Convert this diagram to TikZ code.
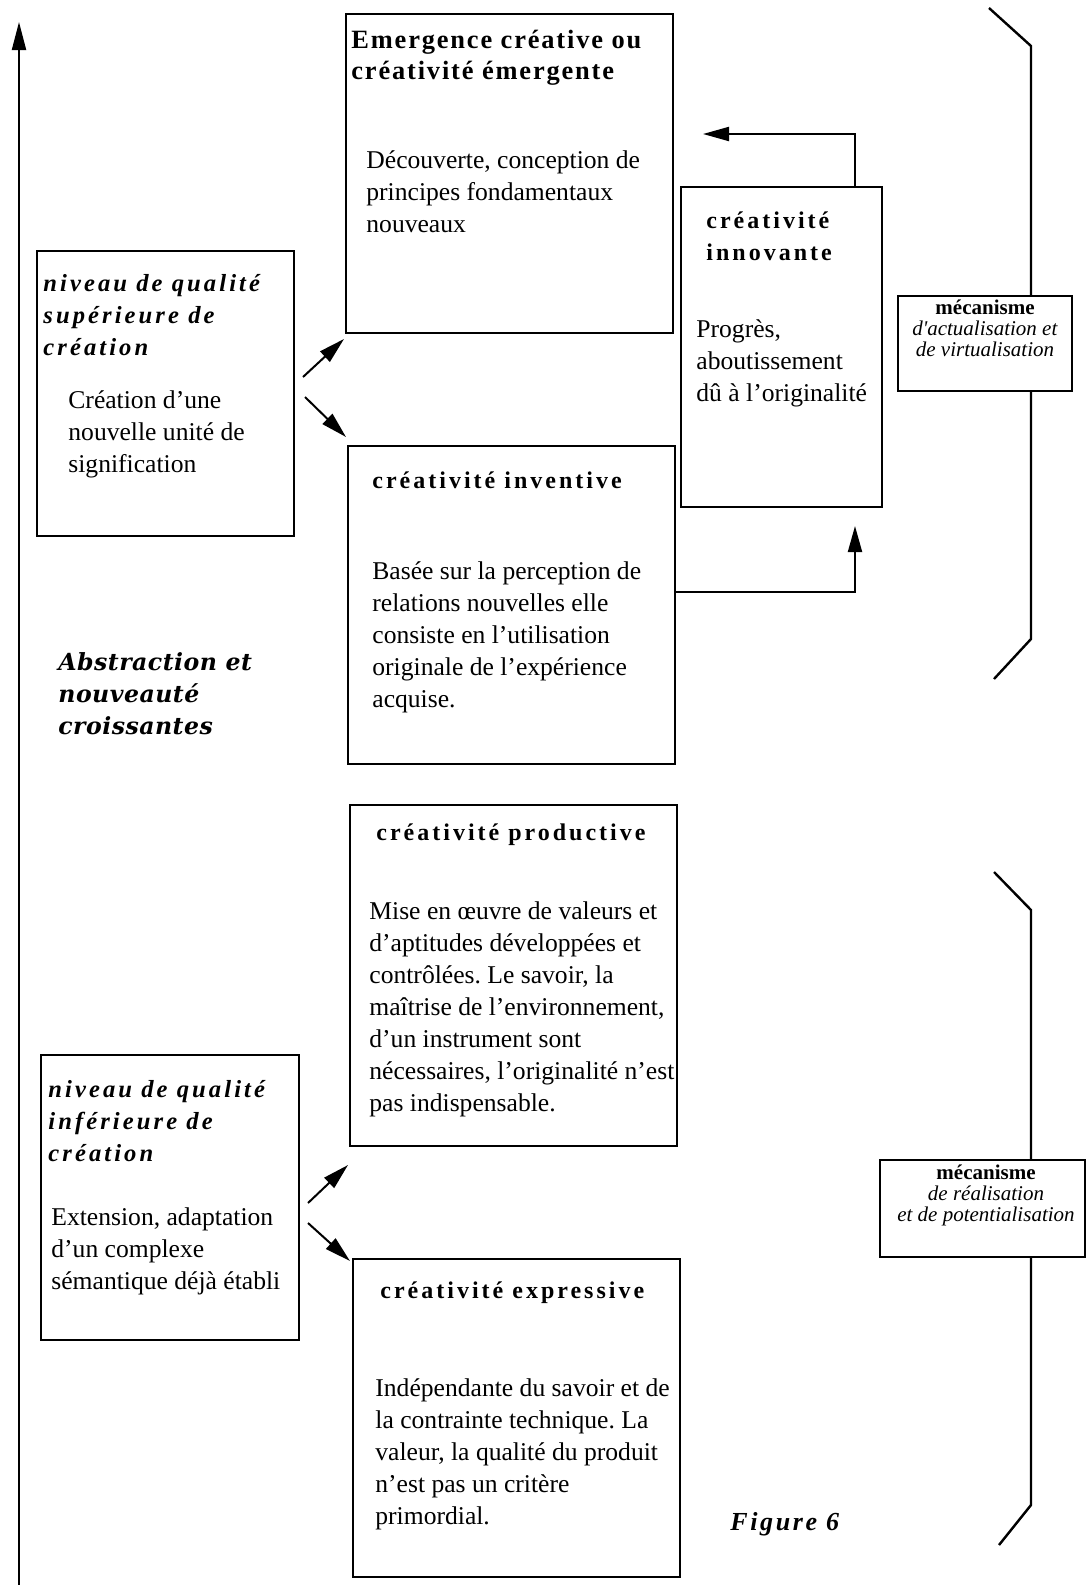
\documentclass[tikz,border=0pt]{standalone}
\usepackage{fontspec}
\setmainfont{Liberation Serif}
\newfontfamily\spaced[LetterSpace=12.5]{Liberation Serif}
\newfontfamily\spacedb[LetterSpace=7]{Liberation Serif}
\newfontfamily\spacedf[LetterSpace=10]{Liberation Serif}
\newfontfamily\wideserif[LetterSpace=2]{DejaVu Serif}
\usetikzlibrary{arrows.meta,fit}
\newcommand\fl{\rule{0pt}{11pt}}
\newcommand\fm{\rule{0pt}{8.5pt}}
\frenchspacing
\begin{document}
\begin{tikzpicture}[x=0.5pt,y=-0.5pt,
  box/.style={draw,line width=1pt,inner sep=0pt,rectangle},
  mbox/.style={draw,line width=1pt,inner sep=0pt,rectangle,fill=white},
  txt/.style={anchor=north west,inner sep=0pt,align=left,font=\fontsize{12.8}{16}\selectfont},
  ttl/.style={anchor=north west,inner sep=0pt,align=left,font=\fontsize{12}{16}\selectfont\spaced\bfseries},
  nttl/.style={anchor=north west,inner sep=0pt,align=left,font=\fontsize{12.3}{16}\selectfont\spaced\bfseries\itshape},
  etl/.style={anchor=north west,inner sep=0pt,align=left,font=\fontsize{13.2}{15.5}\selectfont\spacedb\bfseries},
  abst/.style={anchor=north west,inner sep=0pt,align=left,font=\fontsize{11.8}{16}\selectfont\wideserif\bfseries\itshape},
  mtxt/.style={anchor=north,inner sep=0pt,align=center,font=\fontsize{10.5}{10.5}\selectfont},
  arr/.style={line width=1pt,-{Triangle[length=13pt,width=7pt]}},
  brk/.style={line width=1.2pt}
]
\useasboundingbox (0,0) rectangle (1086,1585);
% axis
\coordinate (axb) at (19,1585);
\coordinate (axt) at (19,22);
\draw[line width=1pt,-{Triangle[length=14pt,width=7pt]}] (axb) -- (axt);
% boxes
\node[box,fit={(346,14) (673,333)}] (emerg) {};
\node[box,fit={(37,251) (294,536)}] (nsup) {};
\node[box,fit={(681,187) (882,507)}] (innov) {};
\node[box,fit={(348,446) (675,764)}] (invent) {};
\node[box,fit={(350,805) (677,1146)}] (prod) {};
\node[box,fit={(41,1055) (299,1340)}] (ninf) {};
\node[box,fit={(353,1259) (680,1577)}] (expr) {};
% brackets
\coordinate (b1a) at (989,8);
\coordinate (b1b) at (1031,46);
\coordinate (b1c) at (1031,639);
\coordinate (b1d) at (994,679);
\draw[brk] (b1a) -- (b1b) -- (b1c) -- (b1d);
\coordinate (b2a) at (994,872);
\coordinate (b2b) at (1031,910);
\coordinate (b2c) at (1031,1505);
\coordinate (b2d) at (999,1545);
\draw[brk] (b2a) -- (b2b) -- (b2c) -- (b2d);
\node[mbox,fit={(898,296) (1072,391)}] (mech1) {};
\node[mbox,fit={(880,1160) (1085,1257)}] (mech2) {};
% texts
\node[etl] (temerg) at (351,26) {\fl Emergence créative ou\\créativité émergente};
\node[txt] (bemerg) at (366,146) {\fl Découverte, conception de\\principes fondamentaux\\nouveaux};
\node[nttl] (tnsup) at (43,269) {\fl niveau de qualité\\supérieure de\\création};
\node[txt] (bnsup) at (68,386) {\fl Création d’une\\nouvelle unité de\\signification};
\node[ttl] (tinnov) at (706,206) {\fl créativité\\innovante};
\node[txt] (binnov) at (696,315) {\fl Progrès,\\aboutissement\\dû à l’originalité};
\node[mtxt] (tmech1) at (985,297) {\fm\textbf{mécanisme}\\\textit{d\textquotesingle actualisation et}\\\textit{de virtualisation}};
\node[ttl] (tinvent) at (372,466) {\fl créativité inventive};
\node[txt] (binvent) at (372,557) {\fl Basée sur la perception de\\relations nouvelles elle\\consiste en l’utilisation\\originale de l’expérience\\acquise.};
\node[abst] (abstr) at (58,648) {\fl Abstraction et\\nouveauté\\croissantes};
\node[ttl] (tprod) at (376,818) {\fl créativité productive};
\node[txt] (bprod) at (369,897) {\fl Mise en œuvre de valeurs et\\d’aptitudes développées et\\contrôlées. Le savoir, la\\maîtrise de l’environnement,\\d’un instrument sont\\nécessaires, l’originalité n’est\\pas indispensable.};
\node[nttl] (tninf) at (48,1075) {\fl niveau de qualité\\inférieure de\\création};
\node[txt] (bninf) at (51,1203) {\fl Extension, adaptation\\d’un complexe\\sémantique déjà établi};
\node[ttl] (texpr) at (380,1276) {\fl créativité expressive};
\node[txt] (bexpr) at (375,1374) {\fl Indépendante du savoir et de\\la contrainte technique. La\\valeur, la qualité du produit\\n’est pas un critère\\primordial.};
\node[mtxt] (tmech2) at (986,1162) {\fm\textbf{mécanisme}\\\textit{de réalisation}\\\textit{et de potentialisation}};
\node[anchor=base west,inner sep=0pt,font=\fontsize{13}{16}\selectfont\spacedf\bfseries\itshape] (fig) at (730,1530) {Figure 6};
% connectors
\coordinate (xup) at (855,0);
\coordinate (e1tip) at (703,134);
\draw[arr] (innov.north -| xup) |- (e1tip);
\coordinate (y592) at (0,592);
\coordinate (tip2) at (855,526);
\draw[arr] (invent.east |- y592) -| (tip2);
\coordinate (s1) at (303,377); \coordinate (e1) at (344,339);
\coordinate (s2) at (305,397); \coordinate (e2) at (346,437);
\coordinate (s3) at (308,1203); \coordinate (e3) at (348,1165);
\coordinate (s4) at (308,1223); \coordinate (e4) at (350,1261);
\draw[arr] (s1) -- (e1);
\draw[arr] (s2) -- (e2);
\draw[arr] (s3) -- (e3);
\draw[arr] (s4) -- (e4);
\end{tikzpicture}
\end{document}
